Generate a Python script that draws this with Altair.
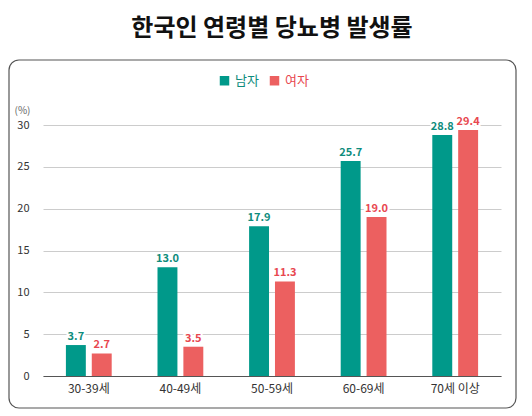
import altair as alt
import pandas as pd

ages = ["30-39세", "40-49세", "50-59세", "60-69세", "70세 이상"]
male = [3.7, 13.0, 17.9, 25.7, 28.8]
female = [2.7, 3.5, 11.3, 19.0, 29.4]
sexes = ["남자", "여자"]
y_ticks = [0, 5, 10, 15, 20, 25, 30]

bar_colors = ["#00998A", "#EC6060"]
text_colors = ["#0E8C7C", "#E8474F"]
font = "Noto Sans CJK KR"

rows = []
for a, m, f in zip(ages, male, female):
    rows.append({"age": a, "sex": sexes[0], "value": m})
    rows.append({"age": a, "sex": sexes[1], "value": f})
df = pd.DataFrame(rows)
df["label"] = df["value"].map(lambda v: f"{v:.1f}")

base = alt.Chart(df).encode(
    x=alt.X("age:N", sort=ages, title=None,
            scale=alt.Scale(paddingInner=0.5, paddingOuter=0.25),
            axis=alt.Axis(labelAngle=0, labelFontSize=12, labelColor="#333333", labelFont=font,
                          labelPadding=7, ticks=False, domainColor="#555555", domainWidth=1.2)),
    xOffset=alt.XOffset("sex:N", sort=sexes, scale=alt.Scale(paddingInner=0.23)),
    y=alt.Y("value:Q", scale=alt.Scale(domain=[0, 30]),
            axis=alt.Axis(values=y_ticks, domain=False, ticks=False, labelPadding=14,
                          labelFontSize=11, labelColor="#333333", labelFont=font,
                          gridColor="#cccccc", gridWidth=1,
                          title="(%)", titleAngle=0, titleX=-29, titleY=-15,
                          titleAlign="left", titleBaseline="middle", titleFontSize=10,
                          titleFontWeight="normal", titleColor="#666666", titleFont=font)),
)

bars = base.mark_bar().encode(
    color=alt.Color("sex:N", sort=sexes, scale=alt.Scale(domain=sexes, range=bar_colors),
                    legend=alt.Legend(title=None, orient="none", direction="horizontal",
                                      legendX=175, legendY=-51, symbolType="square",
                                      symbolSize=90, symbolStrokeWidth=0, columnPadding=9,
                                      labelFontSize=13, labelFont=font, labelOffset=4,
                                      labelColor={"expr": "datum.value == '남자' ? '#0E8C7C' : '#E8474F'"}))
)

halo = base.mark_text(baseline="bottom", dy=-3, fontSize=11, fontWeight="bold", font=font,
                      stroke="white", strokeWidth=4, color="white").encode(text="label:N")

labels = base.mark_text(baseline="bottom", dy=-3, fontSize=11, fontWeight="bold", font=font).encode(
    text="label:N",
    color=alt.Color("sex:N", sort=sexes, scale=alt.Scale(domain=sexes, range=text_colors), legend=None),
)

frame = alt.Chart(pd.DataFrame({"k": [0]})).mark_rect(
    fillOpacity=0, stroke="#555555", strokeWidth=1.2, cornerRadius=10
).encode(x=alt.value(-34), x2=alt.value(473), y=alt.value(-65), y2=alt.value(283))

chart = alt.layer(frame, bars, halo, labels).resolve_scale(color="independent").properties(
    width=458, height=251,
    padding={"left": 0, "top": 9, "right": 1, "bottom": 1},
    title=alt.TitleParams("한국인 연령별 당뇨병 발생률", fontSize=24, fontWeight="bold", font=font,
                          color="#111111", anchor="middle", offset=18),
).configure_view(stroke=None)

chart.save("out.html", embed_options={"renderer": "svg", "actions": False})
